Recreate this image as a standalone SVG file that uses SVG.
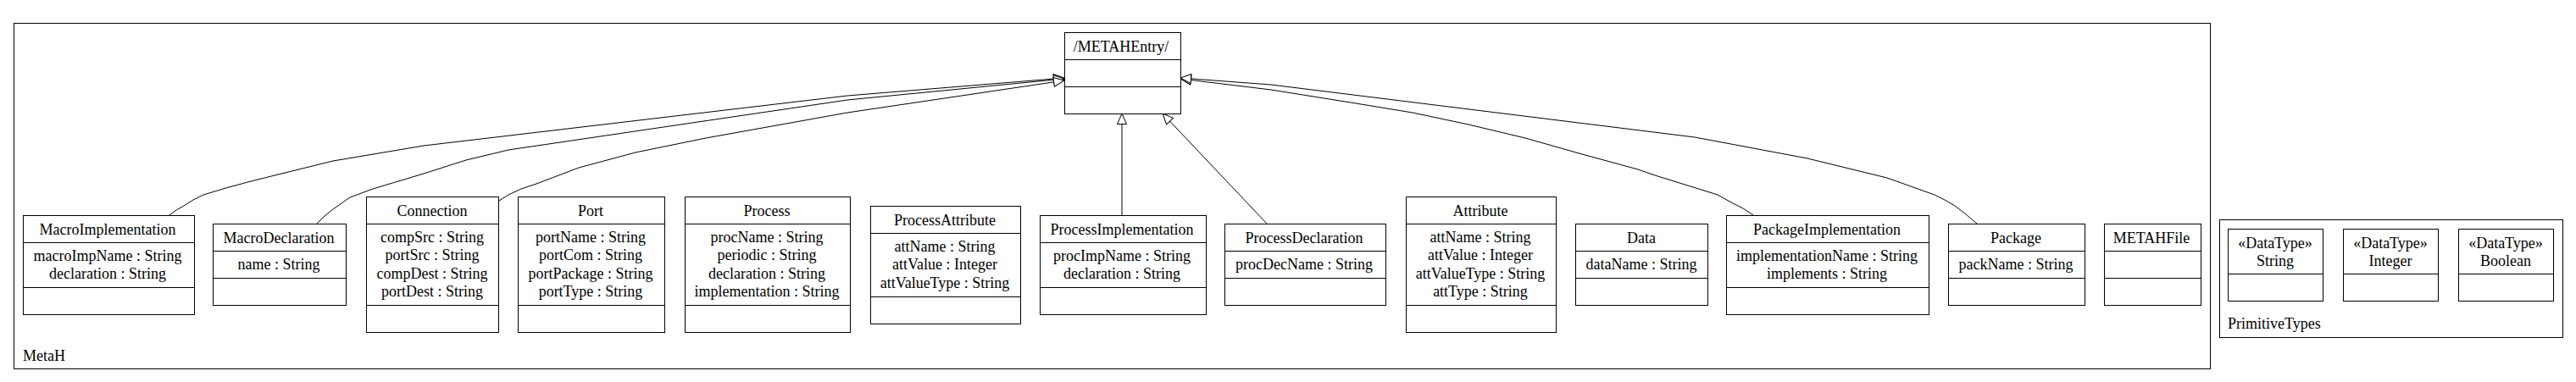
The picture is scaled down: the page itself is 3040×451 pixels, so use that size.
<svg xmlns="http://www.w3.org/2000/svg" width="3040" height="451" viewBox="0 0 3040 451">
<style>
rect{fill:#fff;stroke:#000;stroke-width:1}
rect.bg{fill:#fff;stroke:none}
.pkg{fill:none}
.div{stroke:#000;stroke-width:1}
text{font-family:"Liberation Serif","Times New Roman",serif;font-size:18px;fill:#000}
.c{text-anchor:middle}
.edge{fill:none;stroke:#000;stroke-width:1;marker-end:url(#gen)}
</style>
<defs>
<marker id="gen" markerUnits="userSpaceOnUse" markerWidth="16" markerHeight="14" viewBox="0 0 16 14" refX="14" refY="7" orient="auto">
<path d="M1.5,1.5 L14,7 L1.5,12.5 Z" fill="#fff" stroke="#000" stroke-width="1"/>
</marker>
</defs>
<rect class="bg" x="0" y="0" width="3040" height="451"/>
<g id="pkg-MetaH">
<rect class="pkg" x="16.5" y="27.5" width="2592" height="408"/>
<text x="27" y="426">MetaH</text>
</g>
<g id="pkg-PrimitiveTypes">
<rect class="pkg" x="2619.5" y="259.5" width="405" height="139"/>
<text x="2629" y="388">PrimitiveTypes</text>
</g>
<g id="connectors">
<path class="edge" d="M200,254 L208,248 L217,243 L228,236 L240,230 L270,221 L300,213 L393,190 L500,172 L1000,113 L1256,92"/>
<path class="edge" d="M374,264 L383,255 L393,247 L403,240 L413,233 L440,223 L500,205 L550,189 L600,177 L1000,118 L1256,93"/>
<path class="edge" d="M589,237 L600,230 L615,223 L633,217 L683,198 L750,180 L833,163 L1000,133 L1256,95"/>
<path class="edge" d="M1324,254 L1324,134"/>
<path class="edge" d="M1495,264 L1372,134"/>
<path class="edge" d="M2069,254 L2057,246 L2045,240 L2027,230 L1950,206 L1933,200 L1867,182 L1800,163 L1733,147 L1667,133 L1600,122 L1500,106 L1393,93"/>
<path class="edge" d="M2333,264 L2320,253 L2307,243 L2295,236 L2283,230 L2227,210 L2133,187 L2000,162 L1500,100 L1393,92"/>
</g>
<g id="METAHEntry">
<rect x="1256.5" y="38.5" width="137" height="96"/>
<line class="div" x1="1256.5" y1="70.5" x2="1393.5" y2="70.5"/>
<line class="div" x1="1256.5" y1="102.5" x2="1393.5" y2="102.5"/>
<text class="c" x="1323" y="61">/METAHEntry/</text>
</g>
<g id="MacroImplementation">
<rect x="27.5" y="254.5" width="202" height="117"/>
<line class="div" x1="27.5" y1="286.5" x2="229.5" y2="286.5"/>
<line class="div" x1="27.5" y1="339.5" x2="229.5" y2="339.5"/>
<text class="c" x="127" y="277">MacroImplementation</text>
<text class="c" x="127" y="308">macroImpName : String</text>
<text class="c" x="127" y="329.3">declaration : String</text>
</g>
<g id="MacroDeclaration">
<rect x="251.5" y="264.5" width="157" height="96"/>
<line class="div" x1="251.5" y1="296.5" x2="408.5" y2="296.5"/>
<line class="div" x1="251.5" y1="328.5" x2="408.5" y2="328.5"/>
<text class="c" x="329" y="287">MacroDeclaration</text>
<text class="c" x="329" y="318">name : String</text>
</g>
<g id="Connection">
<rect x="432.5" y="232.5" width="156" height="160"/>
<line class="div" x1="432.5" y1="264.5" x2="588.5" y2="264.5"/>
<line class="div" x1="432.5" y1="360.5" x2="588.5" y2="360.5"/>
<text class="c" x="510" y="255">Connection</text>
<text class="c" x="510" y="286">compSrc : String</text>
<text class="c" x="510" y="307.3">portSrc : String</text>
<text class="c" x="510" y="328.7">compDest : String</text>
<text class="c" x="510" y="350">portDest : String</text>
</g>
<g id="Port">
<rect x="611.5" y="232.5" width="173" height="160"/>
<line class="div" x1="611.5" y1="264.5" x2="784.5" y2="264.5"/>
<line class="div" x1="611.5" y1="360.5" x2="784.5" y2="360.5"/>
<text class="c" x="697" y="255">Port</text>
<text class="c" x="697" y="286">portName : String</text>
<text class="c" x="697" y="307.3">portCom : String</text>
<text class="c" x="697" y="328.7">portPackage : String</text>
<text class="c" x="697" y="350">portType : String</text>
</g>
<g id="Process">
<rect x="808.5" y="232.5" width="195" height="160"/>
<line class="div" x1="808.5" y1="264.5" x2="1003.5" y2="264.5"/>
<line class="div" x1="808.5" y1="360.5" x2="1003.5" y2="360.5"/>
<text class="c" x="905" y="255">Process</text>
<text class="c" x="905" y="286">procName : String</text>
<text class="c" x="905" y="307.3">periodic : String</text>
<text class="c" x="905" y="328.7">declaration : String</text>
<text class="c" x="905" y="350">implementation : String</text>
</g>
<g id="ProcessAttribute">
<rect x="1027.5" y="243.5" width="177" height="139"/>
<line class="div" x1="1027.5" y1="275.5" x2="1204.5" y2="275.5"/>
<line class="div" x1="1027.5" y1="350.5" x2="1204.5" y2="350.5"/>
<text class="c" x="1115" y="266">ProcessAttribute</text>
<text class="c" x="1115" y="297">attName : String</text>
<text class="c" x="1115" y="318.3">attValue : Integer</text>
<text class="c" x="1115" y="339.7">attValueType : String</text>
</g>
<g id="ProcessImplementation">
<rect x="1227.5" y="254.5" width="196" height="117"/>
<line class="div" x1="1227.5" y1="286.5" x2="1423.5" y2="286.5"/>
<line class="div" x1="1227.5" y1="339.5" x2="1423.5" y2="339.5"/>
<text class="c" x="1324" y="277">ProcessImplementation</text>
<text class="c" x="1324" y="308">procImpName : String</text>
<text class="c" x="1324" y="329.3">declaration : String</text>
</g>
<g id="ProcessDeclaration">
<rect x="1445.5" y="264.5" width="190" height="96"/>
<line class="div" x1="1445.5" y1="296.5" x2="1635.5" y2="296.5"/>
<line class="div" x1="1445.5" y1="328.5" x2="1635.5" y2="328.5"/>
<text class="c" x="1539" y="287">ProcessDeclaration</text>
<text class="c" x="1539" y="318">procDecName : String</text>
</g>
<g id="Attribute">
<rect x="1659.5" y="232.5" width="177" height="160"/>
<line class="div" x1="1659.5" y1="264.5" x2="1836.5" y2="264.5"/>
<line class="div" x1="1659.5" y1="360.5" x2="1836.5" y2="360.5"/>
<text class="c" x="1747" y="255">Attribute</text>
<text class="c" x="1747" y="286">attName : String</text>
<text class="c" x="1747" y="307.3">attValue : Integer</text>
<text class="c" x="1747" y="328.7">attValueType : String</text>
<text class="c" x="1747" y="350">attType : String</text>
</g>
<g id="Data">
<rect x="1859.5" y="264.5" width="156" height="96"/>
<line class="div" x1="1859.5" y1="296.5" x2="2015.5" y2="296.5"/>
<line class="div" x1="1859.5" y1="328.5" x2="2015.5" y2="328.5"/>
<text class="c" x="1937" y="287">Data</text>
<text class="c" x="1937" y="318">dataName : String</text>
</g>
<g id="PackageImplementation">
<rect x="2037.5" y="254.5" width="239" height="117"/>
<line class="div" x1="2037.5" y1="286.5" x2="2276.5" y2="286.5"/>
<line class="div" x1="2037.5" y1="339.5" x2="2276.5" y2="339.5"/>
<text class="c" x="2156" y="277">PackageImplementation</text>
<text class="c" x="2156" y="308">implementationName : String</text>
<text class="c" x="2156" y="329.3">implements : String</text>
</g>
<g id="Package">
<rect x="2299.5" y="264.5" width="161" height="96"/>
<line class="div" x1="2299.5" y1="296.5" x2="2460.5" y2="296.5"/>
<line class="div" x1="2299.5" y1="328.5" x2="2460.5" y2="328.5"/>
<text class="c" x="2379" y="287">Package</text>
<text class="c" x="2379" y="318">packName : String</text>
</g>
<g id="METAHFile">
<rect x="2483.5" y="264.5" width="114" height="96"/>
<line class="div" x1="2483.5" y1="296.5" x2="2597.5" y2="296.5"/>
<line class="div" x1="2483.5" y1="328.5" x2="2597.5" y2="328.5"/>
<text class="c" x="2539" y="287">METAHFile</text>
</g>
<g id="DataType-String">
<rect x="2629.5" y="270.5" width="112" height="85"/>
<line class="div" x1="2629.5" y1="323.5" x2="2741.5" y2="323.5"/>
<text class="c" x="2685" y="293">«DataType»</text>
<text class="c" x="2685" y="314">String</text>
</g>
<g id="DataType-Integer">
<rect x="2765.5" y="270.5" width="112" height="85"/>
<line class="div" x1="2765.5" y1="323.5" x2="2877.5" y2="323.5"/>
<text class="c" x="2821" y="293">«DataType»</text>
<text class="c" x="2821" y="314">Integer</text>
</g>
<g id="DataType-Boolean">
<rect x="2901.5" y="270.5" width="112" height="85"/>
<line class="div" x1="2901.5" y1="323.5" x2="3013.5" y2="323.5"/>
<text class="c" x="2957" y="293">«DataType»</text>
<text class="c" x="2957" y="314">Boolean</text>
</g>
</svg>
